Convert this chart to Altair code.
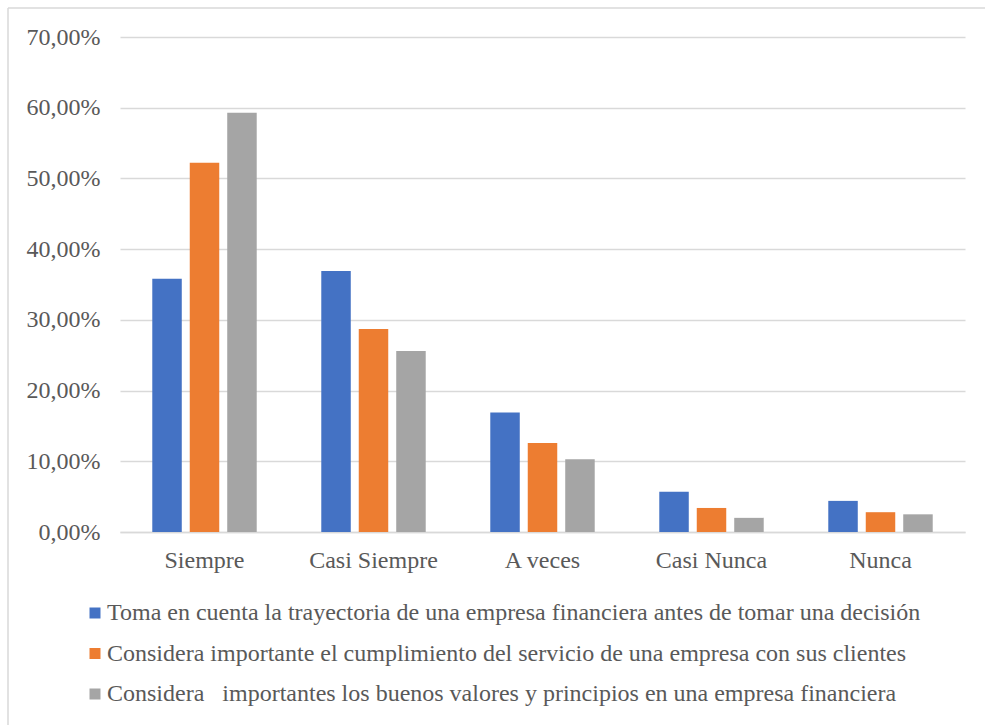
import altair as alt
import pandas as pd

# Survey answers (percent of respondents) per frequency category
categories = ["Siempre", "Casi Siempre", "A veces", "Casi Nunca", "Nunca"]
series = [
    "Toma en cuenta la trayectoria de una empresa financiera antes de tomar una decisión",
    "Considera importante el cumplimiento del servicio de una empresa con sus clientes",
    "Considera\u00a0\u00a0\u00a0importantes los buenos valores y principios en una empresa financiera",
]
trayectoria = [35.8, 36.9, 16.9, 5.7, 4.4]
cumplimiento = [52.2, 28.7, 12.6, 3.4, 2.8]
valores = [59.3, 25.6, 10.3, 2.0, 2.5]
colors = ["#4472C4", "#ED7D31", "#A5A5A5"]
y_ticks = [0, 10, 20, 30, 40, 50, 60, 70]

rows = []
for s, vals in zip(series, [trayectoria, cumplimiento, valores]):
    for c, v in zip(categories, vals):
        rows.append({"categoria": c, "serie": s, "valor": v})
df = pd.DataFrame(rows)

FONT = "'Liberation Serif', 'Times New Roman', serif"
TXT = "#595959"
GRID = "#D9D9D9"

bars = alt.Chart(df).mark_bar().encode(
    x=alt.X(
        "categoria:N",
        sort=categories,
        scale=alt.Scale(paddingInner=0.382, paddingOuter=0.191),
        axis=alt.Axis(
            title=None, labelAngle=0, ticks=False, domainColor=GRID,
            domainWidth=1.5, labelFont=FONT, labelFontSize=24,
            labelColor=TXT, labelPadding=16,
        ),
    ),
    xOffset=alt.XOffset(
        "serie:N", sort=series,
        scale=alt.Scale(paddingInner=0.213, paddingOuter=0),
    ),
    y=alt.Y(
        "valor:Q",
        scale=alt.Scale(domain=[0, 70], nice=False),
        axis=alt.Axis(
            title=None, values=y_ticks, domain=False, ticks=False,
            gridColor=GRID, gridWidth=1.5, labelFont=FONT,
            labelFontSize=24, labelColor=TXT, labelPadding=20,
            labelExpr="replace(format(datum.value, '.2f'), '.', ',') + '%'",
        ),
    ),
    color=alt.Color(
        "serie:N",
        sort=series,
        scale=alt.Scale(domain=series, range=colors),
        legend=alt.Legend(
            title=None, orient="none", legendX=-37, legendY=69 + 495,
            direction="vertical", symbolType="square", symbolSize=121,
            symbolStrokeWidth=0, labelFont=FONT, labelFontSize=24,
            labelColor=TXT, labelLimit=0, rowPadding=16.5, labelOffset=0,
            padding=0,
        ),
    ),
)

# Thin frame along the top and left edges of the figure
frame_left = alt.Chart(pd.DataFrame({"k": [0]})).mark_rule(
    color=GRID, strokeWidth=1.5
).encode(x=alt.value(-112), y=alt.value(-29), y2=alt.value(725 - 37))
frame_top = alt.Chart(pd.DataFrame({"k": [0]})).mark_rule(
    color=GRID, strokeWidth=1.5
).encode(x=alt.value(-112), x2=alt.value(985 - 120), y=alt.value(-29))

chart = (
    alt.layer(bars, frame_left, frame_top)
    .properties(
        width=845, height=495,
        padding={"left": 120, "top": 37, "right": 20, "bottom": 193},
        autosize=alt.AutoSizeParams(type="none"),
        background="white",
    )
    .configure(font=FONT)
    .configure_view(stroke=None)
)

chart.save("out.html", embed_options={"renderer": "svg", "actions": False})
